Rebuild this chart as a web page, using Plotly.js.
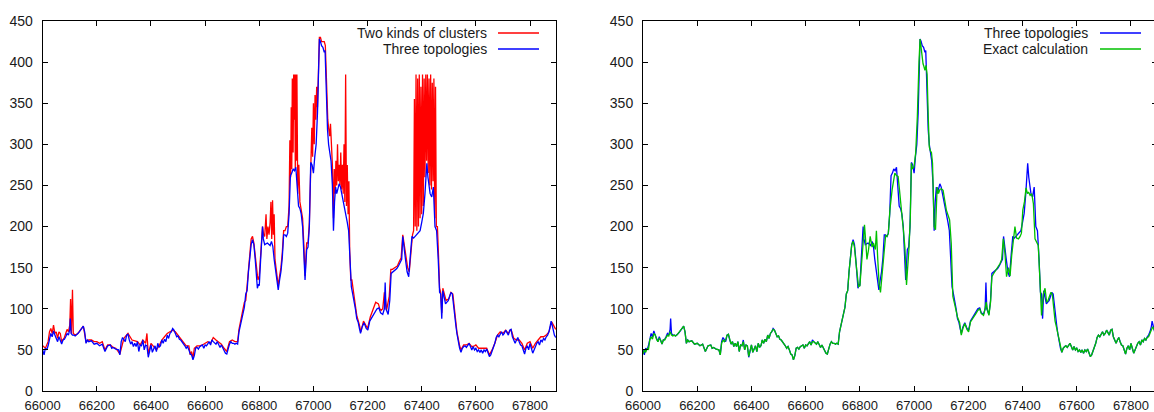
<!DOCTYPE html>
<html>
<head>
<meta charset="utf-8">
<script src="https://cdn.plot.ly/plotly-3.0.1.min.js"></script>
<style>
html,body{margin:0;padding:0;overflow:hidden;background:#fff;}
#wrap{width:1154px;height:412px;overflow:hidden;}
#plot{width:1160px;height:412px;}
</style>
</head>
<body>
<div id="wrap"><div id="plot"></div></div>
<script>
// Three topologies (shared by both panels)
const blueX = [66000,66005,66010,66015,66020,66025,66030,66035,66040,66045,66050,66055,66060,66065,66070,66075,66080,66085,66090,66095,66100,66102,66105,66110,66115,66120,66125,66130,66135,66140,66145,66150,66155,66160,66165,66170,66180,66190,66200,66210,66220,66225,66230,66240,66250,66255,66260,66270,66280,66285,66290,66295,66300,66305,66310,66315,66320,66325,66330,66335,66340,66345,66350,66355,66360,66365,66370,66375,66380,66385,66390,66395,66400,66405,66410,66415,66420,66425,66430,66435,66440,66445,66450,66455,66460,66465,66470,66475,66480,66485,66490,66495,66500,66505,66510,66515,66520,66525,66530,66535,66540,66545,66550,66555,66560,66565,66570,66575,66580,66585,66590,66595,66600,66605,66610,66615,66620,66625,66630,66635,66640,66645,66650,66655,66660,66665,66670,66675,66680,66685,66690,66695,66700,66705,66710,66715,66720,66725,66730,66735,66740,66745,66750,66755,66760,66765,66770,66775,66780,66785,66790,66793,66797,66800,66805,66809,66812,66815,66820,66830,66840,66845,66850,66855,66860,66865,66870,66875,66880,66885,66890,66895,66900,66905,66910,66915,66920,66925,66930,66935,66940,66945,66950,66955,66960,66965,66969,66975,66980,66985,66990,66995,67000,67005,67010,67015,67018,67022,67026,67030,67035,67040,67043,67046,67048,67052,67056,67060,67065,67070,67074,67078,67082,67086,67090,67095,67100,67105,67110,67115,67120,67125,67130,67135,67140,67145,67150,67155,67160,67165,67170,67174,67180,67187,67195,67201,67208,67215,67222,67228,67235,67242,67248,67256,67262,67265,67268,67276,67282,67287,67294,67300,67308,67314,67320,67326,67330,67335,67340,67346,67352,67358,67364,67370,67376,67382,67388,67394,67400,67406,67412,67416,67419,67423,67427,67431,67437,67443,67449,67455,67461,67466,67470,67474,67478,67483,67488,67493,67498,67503,67508,67513,67518,67522,67526,67530,67535,67540,67545,67550,67555,67560,67565,67570,67575,67580,67585,67590,67595,67600,67605,67610,67615,67620,67625,67630,67635,67640,67645,67650,67655,67660,67665,67670,67675,67680,67685,67690,67695,67700,67705,67710,67715,67720,67725,67730,67735,67740,67745,67750,67755,67760,67765,67770,67775,67780,67785,67790,67795,67800,67805,67810,67815,67820,67825,67830,67835,67840,67845,67850,67855,67860,67865,67870,67875,67878,67882,67886,67890,67895];
const blueY = [50,44,52,50,55,65,70,66,73,68,64,60,66,62,57,62,63,66,70,68,75,88,70,68,68,67,68,70,72,74,77,79,72,58,62,60,61,57,58,55,57,52,48,55,56,52,53,51,50,44,60,65,62,60,68,69,62,57,60,54,58,54,60,48,56,55,62,50,56,55,41,50,56,47,52,55,48,58,53,55,62,58,63,60,68,64,70,72,76,74,70,66,67,63,62,60,58,55,52,54,50,45,44,38,43,52,53,51,54,55,56,52,56,55,58,60,56,62,60,58,57,60,56,53,56,52,50,46,45,52,57,60,58,58,57,58,57,72,80,88,95,102,118,122,145,165,178,184,178,160,140,125,130,128,160,182,200,185,178,180,177,182,176,160,148,140,123,135,145,162,190,190,188,192,215,262,265,270,268,272,240,225,222,215,200,170,135,172,175,200,278,275,265,285,300,338,400,428,425,420,418,412,414,380,335,318,300,290,280,250,195,230,248,240,245,252,248,240,232,222,215,205,195,150,127,118,110,100,88,84,76,70,78,83,76,74,85,89,92,95,100,101,95,93,100,132,100,93,110,143,145,147,149,152,156,160,188,170,160,145,139,165,188,186,188,190,193,195,205,216,240,262,277,260,248,240,236,248,200,195,160,120,118,88,122,115,106,108,110,115,120,118,100,85,80,70,60,52,47,52,54,55,53,56,58,54,50,54,50,52,48,50,47,50,46,50,48,51,45,42,44,48,52,58,65,68,66,70,72,68,70,74,70,68,74,75,66,62,58,62,65,60,56,55,50,45,52,55,50,58,52,46,50,55,58,60,56,62,60,64,62,66,68,72,78,85,80,72,68,65];

// Two kinds of clusters (left panel)
const redX = [66000,66010,66020,66025,66030,66035,66040,66045,66050,66055,66060,66065,66070,66080,66090,66095,66100,66103,66106,66110,66113,66120,66130,66140,66150,66160,66170,66180,66190,66200,66210,66220,66230,66240,66250,66260,66270,66285,66300,66315,66330,66350,66360,66370,66380,66385,66390,66400,66410,66420,66430,66440,66450,66460,66470,66480,66490,66500,66510,66520,66530,66540,66545,66550,66555,66560,66570,66580,66590,66600,66610,66620,66630,66640,66650,66660,66670,66680,66690,66700,66710,66720,66725,66730,66740,66745,66750,66755,66760,66765,66770,66775,66780,66785,66790,66795,66800,66806,66809,66812,66816,66820,66825,66828,66832,66836,66840,66843,66846,66849,66852,66855,66858,66862,66866,66870,66875,66880,66885,66890,66895,66900,66905,66910,66913,66916,66918,66920,66922,66925,66927,66929,66931,66933,66935,66937,66939,66942,66946,66950,66955,66960,66965,66969,66975,66980,66985,66990,66994,66997,67000,67003,67006,67009,67012,67015,67018,67022,67026,67030,67035,67040,67044,67047,67050,67053,67056,67060,67063,67066,67070,67074,67077,67080,67083,67086,67089,67092,67095,67098,67101,67104,67107,67110,67113,67116,67119,67122,67125,67128,67131,67134,67138,67142,67148,67155,67160,67170,67175,67185,67195,67200,67210,67215,67220,67225,67230,67240,67245,67250,67256,67262,67266,67270,67280,67286,67292,67300,67310,67318,67324,67330,67336,67342,67348,67354,67360,67366,67370,67373,67376,67379,67382,67385,67388,67391,67394,67397,67400,67403,67406,67409,67412,67415,67418,67421,67424,67427,67430,67433,67436,67439,67442,67445,67448,67451,67454,67458,67462,67466,67470,67474,67478,67485,67490,67500,67508,67515,67520,67525,67530,67540,67545,67555,67565,67575,67585,67595,67600,67610,67620,67630,67640,67650,67660,67670,67680,67690,67700,67710,67720,67730,67740,67750,67760,67770,67780,67790,67800,67810,67820,67830,67840,67850,67860,67870,67880,67890,67895];
const redY = [55,52,60,72,76,70,80,70,72,64,72,70,60,65,75,72,80,112,70,123,70,68,70,74,79,60,62,62,60,60,58,60,50,56,56,53,52,45,64,70,62,60,56,62,58,70,45,58,54,50,55,62,66,70,72,74,72,68,64,60,55,55,44,48,40,52,55,55,56,58,60,58,65,62,60,57,52,48,60,62,60,60,75,85,100,108,110,128,150,170,185,188,180,165,145,135,140,175,195,200,190,188,215,185,200,190,205,230,185,232,190,215,160,150,142,128,140,150,168,195,195,200,200,225,305,260,345,270,380,290,385,330,385,270,385,280,385,240,275,230,220,210,175,140,180,180,205,290,320,285,350,300,360,330,370,345,405,430,430,425,425,425,420,390,340,330,320,310,325,300,275,210,270,240,280,250,300,255,275,250,290,245,275,240,300,230,385,225,275,215,255,170,135,135,118,105,92,80,72,85,80,76,90,95,100,105,108,106,100,98,100,120,112,98,115,148,148,150,152,158,162,190,175,165,150,145,168,190,195,355,200,385,195,380,200,385,210,370,215,385,225,380,260,385,280,385,265,380,250,385,245,375,255,380,210,370,200,200,165,125,120,95,125,115,110,112,120,118,100,82,72,55,50,56,56,58,54,55,56,52,52,52,52,44,50,58,68,72,70,74,70,75,64,62,62,58,50,58,60,52,58,62,66,66,68,72,84,78,75];

// Exact calculation (right panel)
const greenX = [66000,66005,66010,66015,66020,66025,66030,66035,66040,66045,66050,66055,66060,66065,66070,66075,66080,66085,66090,66095,66100,66105,66110,66115,66120,66125,66130,66135,66140,66145,66150,66155,66160,66165,66170,66180,66190,66200,66210,66220,66225,66230,66240,66250,66255,66260,66270,66280,66285,66290,66295,66300,66305,66310,66315,66320,66325,66330,66335,66340,66345,66350,66355,66360,66365,66370,66375,66380,66385,66390,66395,66400,66405,66410,66415,66420,66425,66430,66435,66440,66445,66450,66455,66460,66465,66470,66475,66480,66485,66490,66495,66500,66505,66510,66515,66520,66525,66530,66535,66540,66545,66550,66555,66560,66565,66570,66575,66580,66585,66590,66595,66600,66605,66610,66615,66620,66625,66630,66635,66640,66645,66650,66655,66660,66665,66670,66675,66680,66685,66690,66695,66700,66705,66710,66715,66720,66725,66730,66735,66740,66745,66750,66755,66760,66765,66770,66775,66780,66785,66790,66795,66800,66805,66810,66817,66822,66826,66832,66838,66845,66850,66857,66861,66866,66871,66876,66881,66886,66890,66895,66900,66905,66911,66915,66919,66924,66929,66935,66941,66946,66950,66955,66960,66966,66972,66977,66981,66986,66990,66994,67000,67006,67012,67018,67022,67025,67029,67033,67036,67040,67044,67048,67052,67056,67060,67064,67068,67074,67079,67085,67090,67095,67100,67107,67113,67119,67125,67131,67137,67143,67150,67155,67160,67168,67174,67180,67187,67195,67201,67208,67215,67222,67228,67235,67242,67248,67256,67262,67266,67270,67276,67282,67287,67292,67300,67308,67317,67323,67329,67335,67341,67348,67354,67360,67366,67372,67378,67385,67391,67396,67401,67407,67413,67418,67422,67428,67434,67440,67446,67452,67458,67465,67470,67477,67483,67489,67494,67500,67505,67510,67515,67520,67525,67530,67535,67540,67545,67550,67555,67560,67565,67570,67575,67580,67585,67590,67595,67600,67605,67610,67615,67620,67625,67630,67635,67640,67645,67650,67655,67660,67665,67670,67675,67680,67685,67690,67695,67700,67705,67710,67715,67720,67725,67730,67735,67740,67745,67750,67755,67760,67765,67770,67775,67780,67785,67790,67795,67800,67805,67810,67815,67820,67825,67830,67835,67840,67845,67850,67855,67860,67865,67870,67875,67880,67885,67890,67895];
const greenY = [45,50,47,52,50,62,66,63,70,68,63,60,64,62,57,62,62,65,68,67,72,68,67,68,67,68,70,72,74,77,79,72,58,62,60,61,57,58,55,57,52,48,55,56,52,53,51,50,44,58,62,60,62,68,69,62,57,60,54,58,54,60,48,56,55,60,50,56,55,42,50,56,47,52,55,48,58,53,55,62,58,63,60,68,64,70,72,75,74,70,66,67,63,62,60,58,55,52,54,50,45,44,38,43,52,53,51,54,55,56,52,56,55,58,60,56,60,60,58,57,60,56,53,56,52,50,46,45,52,57,60,58,58,57,58,57,72,80,88,95,102,118,122,145,165,178,182,175,158,138,127,128,150,175,202,180,160,172,188,175,180,172,195,160,130,120,140,150,170,189,188,192,221,235,245,255,265,262,261,245,228,214,198,175,129,150,173,210,277,270,273,290,334,400,428,420,405,398,395,390,396,385,335,297,292,290,277,200,196,248,240,245,246,244,232,220,214,208,180,115,105,96,90,83,68,76,82,75,72,84,87,90,94,98,100,94,92,100,108,100,92,108,139,142,146,150,155,160,185,168,139,150,140,165,180,200,186,185,188,192,220,230,247,240,242,238,240,228,185,180,177,130,92,118,125,108,110,116,120,117,100,85,78,70,60,52,47,52,54,55,53,56,58,54,50,54,50,52,48,50,47,50,46,50,48,51,45,42,44,48,52,58,65,68,66,70,72,68,70,74,70,68,74,75,66,62,58,62,65,60,56,55,50,45,52,55,50,58,52,46,50,55,58,60,56,62,60,64,62,65,66,70,74,78,75,72,68];

const yTicks = [0,50,100,150,200,250,300,350,400,450];
const xTicks = [66000,66200,66400,66600,66800,67000,67200,67400,67600,67800];

const legendLeft = ["Two kinds of clusters", "Three topologies"];
const legendRight = ["Three topologies", "Exact calculation"];

const RED = "#ff0000", BLUE = "#0000ff", GREEN = "#00c000";
const FONT = {family: "Liberation Sans, Arial, sans-serif", size: 14, color: "#1a1a1a"};
const XFONT = {family: "Liberation Sans, Arial, sans-serif", size: 13, color: "#1a1a1a"};
const W = 1160, H = 412;
const LW = 1.3;

const traces = [
  {x: redX, y: redY, type: "scatter", mode: "lines", line: {color: RED, width: LW}, xaxis: "x", yaxis: "y", showlegend: false, hoverinfo: "skip"},
  {x: blueX, y: blueY, type: "scatter", mode: "lines", line: {color: BLUE, width: LW}, xaxis: "x", yaxis: "y", showlegend: false, hoverinfo: "skip"},
  {x: blueX, y: blueY, type: "scatter", mode: "lines", line: {color: BLUE, width: LW}, xaxis: "x2", yaxis: "y2", showlegend: false, hoverinfo: "skip"},
  {x: greenX, y: greenY, type: "scatter", mode: "lines", line: {color: GREEN, width: LW}, xaxis: "x2", yaxis: "y2", showlegend: false, hoverinfo: "skip"}
];

function xa(domain) {
  return {domain: domain, range: [66000, 67896], tickvals: xTicks, ticktext: xTicks.map(String),
    ticks: "inside", ticklen: 5, tickcolor: "#000", tickwidth: 1, showline: true, linecolor: "#000", linewidth: 1,
    mirror: "ticks", showgrid: false, zeroline: false, tickfont: XFONT, ticklabelstandoff: 2, fixedrange: true};
}
function ya(anchor) {
  return {domain: [1 - 391/H, 1 - 21/H], range: [0, 450], tickvals: yTicks, ticktext: yTicks.map(String), anchor: anchor,
    ticks: "inside", ticklen: 5, tickcolor: "#000", tickwidth: 1, showline: true, linecolor: "#000", linewidth: 1,
    mirror: "ticks", showgrid: false, zeroline: false, tickfont: FONT, ticklabelstandoff: 6, fixedrange: true};
}

const px = v => v / W, py = v => 1 - v / H;
const annotations = [], shapes = [];
function addLegend(names, colors, textRight, lineL, lineR) {
  const rows = [33, 49];
  names.forEach((n, i) => {
    annotations.push({xref: "paper", yref: "paper", x: px(textRight), y: py(rows[i]), xanchor: "right", yanchor: "middle",
      text: n, showarrow: false, font: FONT});
    shapes.push({type: "line", xref: "paper", yref: "paper", x0: px(lineL), x1: px(lineR), y0: py(rows[i]), y1: py(rows[i]),
      line: {color: colors[i], width: LW}});
  });
}
addLegend(legendLeft, [RED, BLUE], 489, 498, 539);
addLegend(legendRight, [BLUE, GREEN], 1090, 1100, 1141);

const layout = {
  width: W, height: H, margin: {l: 0, r: 0, t: 0, b: 0}, paper_bgcolor: "#fff", plot_bgcolor: "#fff",
  font: FONT, showlegend: false,
  xaxis: Object.assign(xa([42.7/W, 556/W]), {anchor: "y"}),
  yaxis: ya("x"),
  xaxis2: Object.assign(xa([643/W, 1157/W]), {anchor: "y2"}),
  yaxis2: ya("x2"),
  annotations: annotations, shapes: shapes
};
Plotly.newPlot("plot", traces, layout, {displayModeBar: false, staticPlot: true});
</script>
</body>
</html>
